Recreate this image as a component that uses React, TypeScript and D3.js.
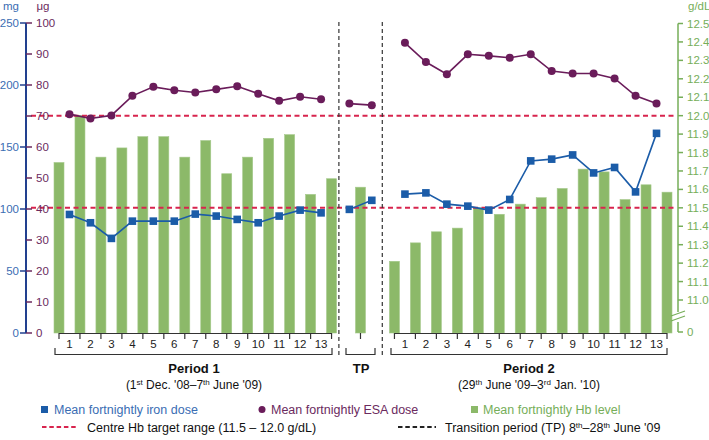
import React from 'react';
import * as d3 from 'd3';

// ---- data ----
const weekLabels = ['1','2','3','4','5','6','7','8','9','10','11','12','13'];

const p1Iron = [95.6, 88.9, 76.3, 90.2, 90.2, 90.2, 95.9, 94.3, 91.6, 88.9, 94.3, 99.1, 96.9];
const tpIron = [99.7, 107];
const p2Iron = [112, 113, 103.9, 102.3, 99.1, 107.7, 138.8, 140.2, 143.6, 129.1, 133.5, 113.8, 161];

const p1Esa = [70.6, 69.2, 70.2, 76.5, 79.4, 78.3, 77.6, 78.6, 79.6, 77.2, 74.9, 76.2, 75.4];
const tpEsa = [74.0, 73.5];
const p2Esa = [93.6, 87.4, 83.5, 89.9, 89.4, 88.8, 89.9, 84.5, 83.7, 83.7, 82.1, 76.5, 74.0];

const p1Hb = [11.746, 12.0, 11.775, 11.825, 11.886, 11.886, 11.775, 11.865, 11.685, 11.775, 11.877, 11.897, 11.573, 11.658];
const tpHb = [11.612];
const p2Hb = [11.21, 11.31, 11.37, 11.39, 11.5, 11.465, 11.52, 11.555, 11.605, 11.71, 11.695, 11.545, 11.625, 11.585];

// positions in fortnight units
const p1Start = 0;
const p2Start = 16;
const tpPointPos = [13.85, 14.92];
const tpBarPos = [14.38];
const tpDividers = [13.35, 15.42];

const mgTicks = [0, 50, 100, 150, 200, 250];
const ugTicks = [0, 10, 20, 30, 40, 50, 60, 70, 80, 90, 100];
const hbTicks = [11.0, 11.1, 11.2, 11.3, 11.4, 11.5, 11.6, 11.7, 11.8, 11.9, 12.0, 12.1, 12.2, 12.3, 12.4, 12.5];
const targetRange = [11.5, 12.0];

const C = {
  iron: '#1b5ca8',
  esa: '#6a1c5a',
  bar: '#8cb969',
  red: '#d8244e',
  leftAxis: '#22408f',
  mgText: '#3a6db3',
  ugText: '#6b2a5e',
  green: '#76ae59',
  dark: '#222',
};

const FONT = '"Liberation Sans", Arial, Helvetica, sans-serif';

export default function App() {
  const x = d3.scaleLinear().domain([0, 29]).range([59, 667]);
  const yMg = d3.scaleLinear().domain([0, 250]).range([333, 23]);
  const yUg = d3.scaleLinear().domain([0, 100]).range([333, 23]);
  const yHb = d3.scaleLinear().domain([11.0, 12.5]).range([300, 23.5]);
  const baseY = 333;
  const barW = 10;

  const lineGen = d3.line<[number, number]>().x(d => d[0]).y(d => d[1]);

  const p1Pts = (vals: number[], ys: d3.ScaleLinear<number, number>) =>
    vals.map((v, i) => [x(p1Start + i + 0.5), ys(v)] as [number, number]);
  const p2Pts = (vals: number[], ys: d3.ScaleLinear<number, number>) =>
    vals.map((v, i) => [x(p2Start + i + 0.5), ys(v)] as [number, number]);
  const tpPts = (vals: number[], ys: d3.ScaleLinear<number, number>) =>
    vals.map((v, i) => [x(tpPointPos[i]), ys(v)] as [number, number]);

  const ironSeries = [p1Pts(p1Iron, yMg), tpPts(tpIron, yMg), p2Pts(p2Iron, yMg)];
  const esaSeries = [p1Pts(p1Esa, yUg), tpPts(tpEsa, yUg), p2Pts(p2Esa, yUg)];

  const bars = [
    ...p1Hb.map((v, i) => ({ cx: x(p1Start + i), v })),
    ...tpHb.map((v, i) => ({ cx: x(tpBarPos[i]), v })),
    ...p2Hb.map((v, i) => ({ cx: x(p2Start + i), v })),
  ];

  const leftX = 26;
  const rightX = 678;

  const periods = [
    { start: p1Start, n: 13 },
    { start: p2Start, n: 13 },
  ];

  const sup = (s: string) => (
    <tspan fontSize={8} dy={-4}>{s}</tspan>
  );
  const down = (s: string) => <tspan dy={4}>{s}</tspan>;

  const LF = 12.5;

  return (
    <svg width={709} height={440} style={{ position: 'absolute', left: 0, top: 0, background: '#fff' }}
      fontFamily={FONT}>
      {/* bars */}
      {bars.map((b, i) => (
        <rect key={'b' + i} x={b.cx - barW / 2} y={yHb(b.v)} width={barW} height={baseY - yHb(b.v)}
          fill={C.bar} stroke="#a5c98b" strokeWidth={0.6} />
      ))}

      {/* target range lines */}
      {targetRange.map((t, i) => (
        <line key={'t' + i} x1={31} x2={rightX - 4} y1={yHb(t)} y2={yHb(t)}
          stroke={C.red} strokeWidth={2} strokeDasharray="5,3.5" />
      ))}

      {/* TP dividers */}
      {tpDividers.map((d, i) => (
        <line key={'d' + i} x1={x(d)} x2={x(d)} y1={22} y2={358}
          stroke="#333" strokeWidth={1.2} strokeDasharray="4,3" />
      ))}

      {/* iron lines */}
      {ironSeries.map((s, i) => (
        <g key={'ir' + i}>
          <path d={lineGen(s) || ''} fill="none" stroke={C.iron} strokeWidth={1.6} />
          {s.map((p, j) => (
            <rect key={j} x={p[0] - 3.8} y={p[1] - 3.8} width={7.6} height={7.6} fill={C.iron} />
          ))}
        </g>
      ))}

      {/* ESA lines */}
      {esaSeries.map((s, i) => (
        <g key={'es' + i}>
          <path d={lineGen(s) || ''} fill="none" stroke={C.esa} strokeWidth={1.6} />
          {s.map((p, j) => (
            <circle key={j} cx={p[0]} cy={p[1]} r={4} fill={C.esa} />
          ))}
        </g>
      ))}

      {/* left axis */}
      <line x1={leftX} x2={leftX} y1={yMg(250)} y2={baseY} stroke={C.leftAxis} strokeWidth={2} />
      {mgTicks.map(t => (
        <g key={'mg' + t}>
          <line x1={leftX - 6} x2={leftX} y1={yMg(t)} y2={yMg(t)} stroke={C.leftAxis} strokeWidth={1.5} />
          <text x={leftX - 7} y={yMg(t)} dy="0.35em" textAnchor="end" fontSize={11.5} fill={C.mgText}>{t}</text>
        </g>
      ))}
      {ugTicks.map(t => (
        <g key={'ug' + t}>
          <line x1={leftX} x2={leftX + 6} y1={yUg(t)} y2={yUg(t)} stroke={C.ugText} strokeWidth={1.5} />
          <text x={leftX + 10} y={yUg(t)} dy="0.35em" textAnchor="start" fontSize={11.5} fill={C.ugText}>{t}</text>
        </g>
      ))}
      <text x={11} y={10} textAnchor="middle" fontSize={11.5} fill={C.mgText}>mg</text>
      <text x={43} y={10} textAnchor="middle" fontSize={11.5} fill={C.ugText}>μg</text>

      {/* right axis */}
      <line x1={rightX} x2={rightX} y1={yHb(12.5)} y2={312} stroke={C.green} strokeWidth={1.5} />
      <line x1={rightX} x2={rightX} y1={322} y2={baseY - 1} stroke={C.green} strokeWidth={1.5} />
      <line x1={rightX} x2={rightX + 5} y1={baseY - 1} y2={baseY - 1} stroke={C.green} strokeWidth={1.5} />
      <line x1={671} x2={685} y1={316} y2={311} stroke={C.green} strokeWidth={1.2} />
      <line x1={671} x2={685} y1={321} y2={316} stroke={C.green} strokeWidth={1.2} />
      {hbTicks.map(t => (
        <g key={'hb' + t}>
          <line x1={rightX} x2={rightX + 5} y1={yHb(t)} y2={yHb(t)} stroke={C.green} strokeWidth={1.5} />
          <text x={rightX + 9} y={yHb(t)} dy="0.35em" fontSize={11.5} fill={C.green}>{t.toFixed(1)}</text>
        </g>
      ))}
      <text x={rightX + 9} y={baseY - 1} dy="0.35em" fontSize={11.5} fill={C.green}>0</text>
      <text x={688} y={10} fontSize={11.5} fill={C.green}>g/dL</text>

      {/* x axis ticks & labels */}
      {periods.map((p, pi) => (
        <g key={'p' + pi}>
          <line x1={x(p.start)} x2={x(p.start + p.n)} y1={baseY + 0.5} y2={baseY + 0.5} stroke="#333" strokeWidth={1} />
          {d3.range(p.n + 1).map(k => (
            <line key={'tk' + k} x1={x(p.start + k)} x2={x(p.start + k)} y1={baseY} y2={baseY + 6} stroke="#333" strokeWidth={1.2} />
          ))}
          {weekLabels.map((l, k) => (
            <text key={'lb' + k} x={x(p.start + k + 0.5)} y={348} textAnchor="middle" fontSize={11.5} fill={C.dark}>{l}</text>
          ))}
        </g>
      ))}
      {tpBarPos.map((p, i) => (
        <line key={'tpt' + i} x1={x(p)} x2={x(p)} y1={baseY} y2={baseY + 6} stroke="#333" strokeWidth={1.2} />
      ))}

      {/* brackets */}
      {[[55, 332], [346, 375], [391, 667]].map(([a, b], i) => (
        <path key={'br' + i} d={`M${a},348 V354.5 H${b} V348`} fill="none" stroke="#333" strokeWidth={1.2} />
      ))}
      <text x={194} y={373} textAnchor="middle" fontSize={13} fontWeight="bold" fill="#111">Period 1</text>
      <text x={194} y={389} textAnchor="middle" fontSize={12} fill="#111">
        (1{sup('st')}{down(" Dec. '08–7")}{sup('th')}{down(" June '09)")}
      </text>
      <text x={361} y={373} textAnchor="middle" fontSize={13} fontWeight="bold" fill="#111">TP</text>
      <text x={529} y={373} textAnchor="middle" fontSize={13} fontWeight="bold" fill="#111">Period 2</text>
      <text x={529} y={389} textAnchor="middle" fontSize={12} fill="#111">
        (29{sup('th')}{down(" June '09–3")}{sup('rd')}{down(" Jan. '10)")}
      </text>

      {/* legend */}
      <rect x={41} y={406} width={7} height={7} fill={C.iron} />
      <text x={54} y={413.5} fontSize={LF} fill={C.mgText}>Mean fortnightly iron dose</text>
      <circle cx={262} cy={409.5} r={3.5} fill={C.esa} />
      <text x={271} y={413.5} fontSize={LF} fill={C.ugText}>Mean fortnightly ESA dose</text>
      <rect x={471} y={406} width={7} height={7} fill={C.bar} />
      <text x={483} y={413.5} fontSize={LF} fill={C.green}>Mean fortnightly Hb level</text>

      <line x1={42} x2={76} y1={427} y2={427} stroke={C.red} strokeWidth={2} strokeDasharray="4.5,2.8" />
      <text x={87} y={431.5} fontSize={LF} fill="#111">Centre Hb target range (11.5 – 12.0 g/dL)</text>
      <line x1={398} x2={436} y1={427} y2={427} stroke="#222" strokeWidth={2} strokeDasharray="4.5,2.8" />
      <text x={445} y={431.5} fontSize={LF} fill="#111">
        Transition period (TP) 8{sup('th')}{down('–28')}{sup('th')}{down(" June '09")}
      </text>
    </svg>
  );
}
